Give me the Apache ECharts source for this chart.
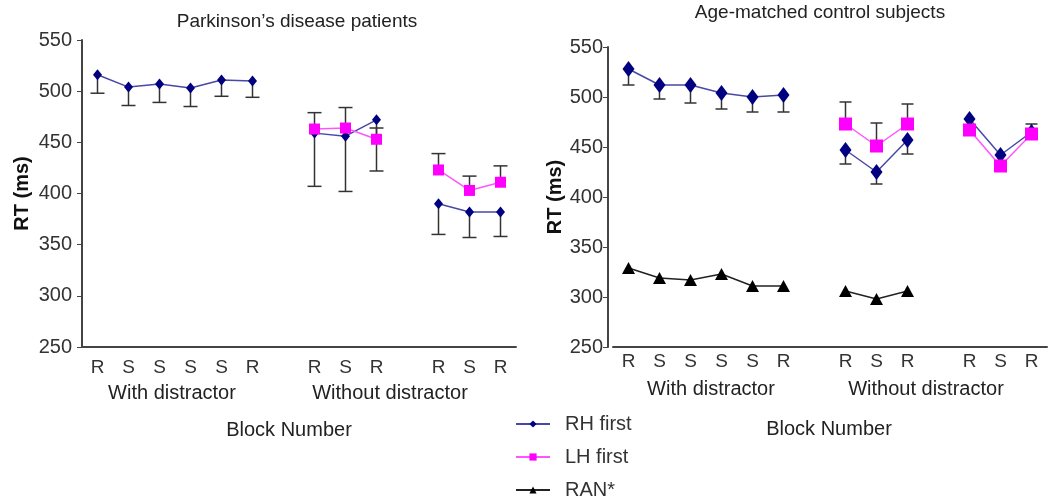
<!DOCTYPE html>
<html>
<head>
<meta charset="utf-8">
<script src="https://cdn.jsdelivr.net/npm/echarts@6/dist/echarts.min.js"></script>
<style>
  html, body { margin: 0; background: #fff; }
  #chart { width: 1050px; height: 501px; }
</style>
</head>
<body>
<div id="chart"></div>
<script>
// block labels (empty slots separate the three groups)
const blocks = ['R', 'S', 'S', 'S', 'S', 'R', '', 'R', 'S', 'R', '', 'R', 'S', 'R']
const yMin = 250
const yMax = 550
const yStep = 50

// Parkinson's disease patients
const pdRH = [516, 504, 507, 503, 511, 510, null, 459, 456, 472, null, 390, 382, 382]
const pdRHErr = [498, 486, 489, 485, 495, 494, null, 407, 402, 422, null, 360, 357, 358]
const pdLH = [null, null, null, null, null, null, null, 463, 464, 453, null, 423, 403, 411]
const pdLHErr = [null, null, null, null, null, null, null, 479, 484, 464, null, 439, 417, 427]

// Age-matched control subjects
const ctRH = [528, 512, 512, 504, 500, 502, null, 447, 425, 457, null, 478, 442, 465]
const ctRHErr = [512, 498, 494, 488, 485, 485, null, 433, 413, 443, null, null, null, 473]
const ctLH = [null, null, null, null, null, null, null, 473, 451, 473, null, 467, 431, 463]
const ctLHErr = [null, null, null, null, null, null, null, 495, 474, 493, null, null, null, null]
const ctRAN = [329, 319, 317, 323, 311, 311, null, 306, 298, 306, null, null, null, null]

const font = 'Liberation Sans, Arial, sans-serif'
const navy = '#000080'
const pink = '#ff00ff'

function errData (vals, errs) {
  return vals.map((v, i) => [i, v, errs[i]]).filter(d => d[1] != null && d[2] != null)
}

function errSeries (vals, errs, axis, capW) {
  return {
    type: 'custom',
    xAxisIndex: axis,
    yAxisIndex: axis,
    z: 1,
    silent: true,
    data: errData(vals, errs),
    renderItem: function (params, api) {
      const a = api.coord([api.value(0), api.value(1)])
      const b = api.coord([api.value(0), api.value(2)])
      const st = { stroke: '#333', lineWidth: 1.5 }
      return {
        type: 'group',
        children: [
          { type: 'line', shape: { x1: a[0], y1: a[1], x2: b[0], y2: b[1] }, style: st },
          { type: 'line', shape: { x1: b[0] - capW, y1: b[1], x2: b[0] + capW, y2: b[1] }, style: st }
        ]
      }
    }
  }
}

function lineSeries (name, vals, axis, color, lineColor, symbol, size) {
  return {
    name: name,
    type: 'line',
    xAxisIndex: axis,
    yAxisIndex: axis,
    z: 3,
    data: vals,
    symbol: symbol,
    symbolSize: size,
    connectNulls: false,
    itemStyle: { color: color },
    lineStyle: { color: lineColor, width: 1.5 }
  }
}

function xAx (gridIndex, labelMargin) {
  return {
    type: 'category',
    gridIndex: gridIndex,
    data: blocks,
    boundaryGap: true,
    axisLine: { lineStyle: { color: '#444', width: 2 } },
    axisTick: { show: false },
    axisLabel: { interval: 0, color: '#333', fontSize: 19, fontFamily: font, margin: labelMargin }
  }
}

function yAx (gridIndex, offset, nameGap, labelMargin) {
  return {
    type: 'value',
    gridIndex: gridIndex,
    min: yMin,
    max: yMax,
    interval: yStep,
    offset: offset,
    name: 'RT (ms)',
    nameLocation: 'middle',
    nameGap: nameGap,
    nameTextStyle: { fontWeight: 'bold', fontSize: 20, color: '#111', fontFamily: font },
    splitLine: { show: false },
    axisLine: { show: true, lineStyle: { color: '#444', width: 2 } },
    axisTick: { show: true, length: 5, lineStyle: { color: '#444' } },
    axisLabel: { color: '#333', fontSize: 20, fontFamily: font, margin: labelMargin }
  }
}

function txt (x, y, s, size) {
  return {
    type: 'text',
    x: x,
    y: y,
    style: { text: s, fill: '#222', font: size + 'px ' + font, align: 'center', verticalAlign: 'middle' }
  }
}

const chart = echarts.init(document.getElementById('chart'))
chart.setOption({
  animation: false,
  backgroundColor: '#fff',
  grid: [
    { left: 82, top: 40, width: 434, height: 307 },
    { left: 613, top: 47, width: 434, height: 300 }
  ],
  xAxis: [xAx(0, 11), xAx(1, 5)],
  yAxis: [yAx(0, 0, 50, 10), yAx(1, 5, 43, 5)],
  legend: {
    orient: 'vertical',
    left: 515,
    top: 414,
    height: 87,
    padding: 0,
    itemWidth: 34,
    itemHeight: 9,
    itemGap: 13,
    data: ['RH first', 'LH first', 'RAN*'],
    textStyle: { fontSize: 20, color: '#333', fontFamily: font, padding: [0, 0, 0, 10] }
  },
  graphic: [
    txt(297, 22, 'Parkinson\u2019s disease patients', 19),
    txt(820, 13, 'Age-matched control subjects', 19),
    txt(172, 393, 'With distractor', 20),
    txt(390, 393, 'Without distractor', 20),
    txt(289, 430, 'Block Number', 20),
    txt(711, 389, 'With distractor', 20),
    txt(926, 389, 'Without distractor', 20),
    txt(829, 429, 'Block Number', 20)
  ],
  series: [
    errSeries(pdRH, pdRHErr, 0, 7),
    errSeries(pdLH, pdLHErr, 0, 7),
    lineSeries('RH first', pdRH, 0, navy, '#4848a8', 'diamond', [9, 11]),
    lineSeries('LH first', pdLH, 0, pink, '#ff55ff', 'rect', [11, 11]),
    errSeries(ctRH, ctRHErr, 1, 6),
    errSeries(ctLH, ctLHErr, 1, 6),
    lineSeries('RH first', ctRH, 1, navy, '#4848a8', 'diamond', [12, 16]),
    lineSeries('LH first', ctLH, 1, pink, '#ff55ff', 'rect', [13, 13]),
    lineSeries('RAN*', ctRAN, 1, '#000', '#222', 'triangle', [13, 12])
  ]
})
</script>
</body>
</html>
